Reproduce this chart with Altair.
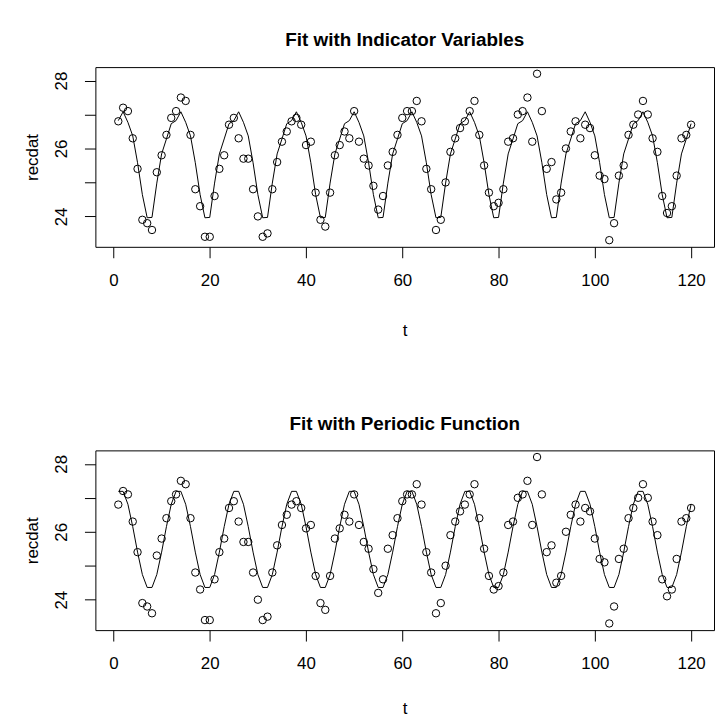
import altair as alt
import pandas as pd

# ---- data ----
t_values = list(range(1, 121))
recdat = [
    26.8, 27.2, 27.1, 26.3, 25.4, 23.9, 23.8, 23.6, 25.3, 25.8, 26.4, 26.9,
    27.1, 27.5, 27.4, 26.4, 24.8, 24.3, 23.4, 23.4, 24.6, 25.4, 25.8, 26.7,
    26.9, 26.3, 25.7, 25.7, 24.8, 24.0, 23.4, 23.5, 24.8, 25.6, 26.2, 26.5,
    26.8, 26.9, 26.7, 26.1, 26.2, 24.7, 23.9, 23.7, 24.7, 25.8, 26.1, 26.5,
    26.3, 27.1, 26.2, 25.7, 25.5, 24.9, 24.2, 24.6, 25.5, 25.9, 26.4, 26.9,
    27.1, 27.1, 27.4, 26.8, 25.4, 24.8, 23.6, 23.9, 25.0, 25.9, 26.3, 26.6,
    26.8, 27.1, 27.4, 26.4, 25.5, 24.7, 24.3, 24.4, 24.8, 26.2, 26.3, 27.0,
    27.1, 27.5, 26.2, 28.2, 27.1, 25.4, 25.6, 24.5, 24.7, 26.0, 26.5, 26.8,
    26.3, 26.7, 26.6, 25.8, 25.2, 25.1, 23.3, 23.8, 25.2, 25.5, 26.4, 26.7,
    27.0, 27.4, 27.0, 26.3, 25.9, 24.6, 24.1, 24.3, 25.2, 26.3, 26.4, 26.7,
]
# fitted value for each month of the 12-month cycle
indicator_fit_month = [26.82, 27.08, 26.77, 26.37, 25.58, 24.64,
                       23.96, 23.97, 24.98, 25.84, 26.28, 26.73]
periodic_fit_month = [27.19, 27.19, 26.81, 26.15, 25.40, 24.74,
                      24.36, 24.36, 24.74, 25.40, 26.15, 26.81]

x_ticks = [0, 20, 40, 60, 80, 100, 120]
y_ticks = [24, 25, 26, 27, 28]
titles = ["Fit with Indicator Variables", "Fit with Periodic Function"]

pts_df = pd.DataFrame({"t": t_values, "recdat": recdat})
ind_df = pd.DataFrame({"t": t_values,
                       "recdat": [indicator_fit_month[(t - 1) % 12] for t in t_values]})
per_df = pd.DataFrame({"t": t_values,
                       "recdat": [periodic_fit_month[(t - 1) % 12] for t in t_values]})

FONT = "Liberation Sans"

y_enc = alt.Y(
    "recdat:Q",
    scale=alt.Scale(domain=[23.104, 28.396], nice=False, zero=False),
    axis=alt.Axis(values=y_ticks, title="recdat",
                  labelExpr="datum.value % 2 == 0 ? datum.label : ''",
                  labelAngle=270, labelAlign="center", labelBaseline="bottom",
                  labelPadding=14, titlePadding=11),
)


def panel(title, fit_df, x_title_pad):
    x_enc = alt.X(
        "t:Q",
        scale=alt.Scale(domain=[-3.76, 124.76], nice=False, zero=False),
        axis=alt.Axis(values=x_ticks, title="t", labelPadding=15,
                      titlePadding=x_title_pad, labelFlush=False),
    )
    pts = alt.Chart(pts_df).mark_point(
        shape="circle", filled=False, color="black", size=56, strokeWidth=1, opacity=1
    ).encode(x=x_enc, y=y_enc)
    line = alt.Chart(fit_df).mark_line(color="black", strokeWidth=1).encode(
        x="t:Q", y="recdat:Q"
    )
    return alt.layer(pts, line).properties(
        width=623, height=181,
        title=alt.Title(title, fontSize=19, fontWeight="bold", font=FONT,
                        anchor="middle", offset=17, color="black"),
    )


chart = alt.vconcat(
    panel(titles[0], ind_df, 34), panel(titles[1], per_df, 29), spacing=75
).properties(
    padding={"left": 15, "top": 20, "right": 0, "bottom": 0}
).configure_view(
    stroke="black", strokeWidth=1
).configure_axis(
    labelFont=FONT, titleFont=FONT, labelFontSize=17, titleFontSize=17,
    titleFontWeight="normal", labelColor="black", titleColor="black",
    tickColor="black", tickSize=11, tickWidth=1, domain=False, grid=False,
)

chart.save("out.html", embed_options={"renderer": "svg", "actions": False})
